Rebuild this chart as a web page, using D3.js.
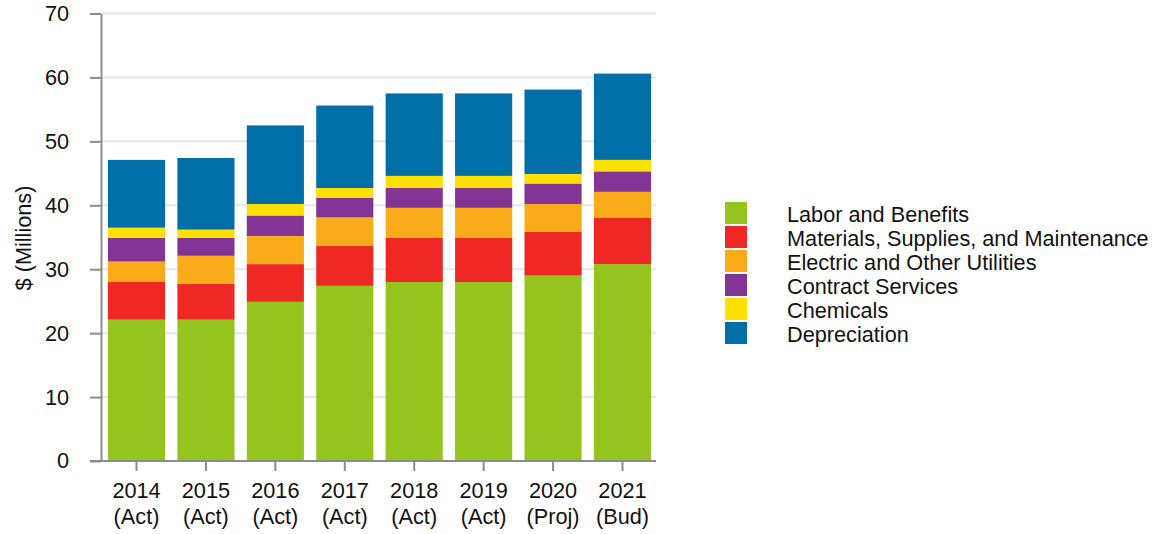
<!DOCTYPE html>
<html>
<head>
<meta charset="utf-8">
<script src="https://cdn.jsdelivr.net/npm/d3@7"></script>
<style>
  html, body { margin: 0; padding: 0; background: #fff; }
  svg { display: block; font-family: "Liberation Sans", Arial, Helvetica, sans-serif; }
</style>
</head>
<body>
<svg id="chart" width="1158" height="534"></svg>
<script>
// Operating expenses by category, $ millions
const years = ["2014", "2015", "2016", "2017", "2018", "2019", "2020", "2021"];
const yearTags = ["(Act)", "(Act)", "(Act)", "(Act)", "(Act)", "(Act)", "(Proj)", "(Bud)"];

const seriesNames = [
  "Labor and Benefits",
  "Materials, Supplies, and Maintenance",
  "Electric and Other Utilities",
  "Contract Services",
  "Chemicals",
  "Depreciation"
];
const seriesColors = ["#96c41f", "#ee2925", "#faab19", "#823595", "#fde000", "#006fa7"];

const labor       = [22.1, 22.1, 24.9, 27.4, 28.0, 28.0, 29.0, 30.8];
const materials   = [5.9, 5.6, 5.9, 6.3, 6.9, 6.9, 6.9, 7.3];
const utilities   = [3.2, 4.4, 4.4, 4.4, 4.7, 4.7, 4.3, 4.0];
const contract    = [3.7, 2.8, 3.2, 3.1, 3.1, 3.1, 3.2, 3.2];
const chemicals   = [1.6, 1.3, 1.8, 1.5, 1.9, 1.9, 1.5, 1.8];
const depreciation = [10.6, 11.2, 12.3, 12.9, 12.9, 12.9, 13.2, 13.5];

const yTicks = [0, 10, 20, 30, 40, 50, 60, 70];

const seriesValues = [labor, materials, utilities, contract, chemicals, depreciation];
const keys = seriesNames;
const rows = years.map((yr, i) => {
  const r = { year: yr };
  keys.forEach((k, j) => { r[k] = seriesValues[j][i]; });
  return r;
});

const svg = d3.select("#chart");
const font = 21.7;
const plotLeft = 101, plotRight = 656, plotTop = 13.5, plotBottom = 461;

const x = d3.scaleBand().domain(years).range([plotLeft, 658]).paddingInner(0.177).paddingOuter(0.1);
const y = d3.scaleLinear().domain([0, 70]).range([plotBottom, plotTop]);

// gridlines
svg.append("g").selectAll("line").data(yTicks.filter(t => t > 0)).join("line")
  .attr("x1", plotLeft + 1).attr("x2", plotRight)
  .attr("y1", d => y(d)).attr("y2", d => y(d))
  .attr("stroke", "#e6e6e6").attr("stroke-width", 2);

// stacked bars
const stack = d3.stack().keys(keys)(rows);
const color = d3.scaleOrdinal().domain(keys).range(seriesColors);
svg.append("g").selectAll("g").data(stack).join("g")
  .attr("fill", d => color(d.key))
  .selectAll("rect").data(d => d).join("rect")
  .attr("x", d => x(d.data.year))
  .attr("width", x.bandwidth())
  .attr("y", d => y(d[1]))
  .attr("height", d => y(d[0]) - y(d[1]));

// y axis
const yAxis = svg.append("g").attr("transform", `translate(${plotLeft},0)`)
  .call(d3.axisLeft(y).tickValues(yTicks).tickSize(11).tickPadding(21).tickSizeOuter(0));
yAxis.select(".domain").attr("stroke", "#8c8c8c").attr("stroke-width", 2);
yAxis.selectAll(".tick line").attr("stroke", "#8c8c8c").attr("stroke-width", 2);
yAxis.selectAll(".tick text").attr("font-size", font).attr("fill", "#111")
  .attr("font-family", "Liberation Sans, Arial, sans-serif");

// x axis
const xAxis = svg.append("g").attr("transform", `translate(0,${plotBottom})`)
  .call(d3.axisBottom(x).tickSize(10).tickSizeOuter(0).tickFormat(""));
xAxis.select(".domain").remove();
xAxis.append("line").attr("x1", 90).attr("x2", plotRight).attr("y1", 0).attr("y2", 0)
  .attr("stroke", "#8c8c8c").attr("stroke-width", 2);
xAxis.selectAll(".tick line").attr("stroke", "#8c8c8c").attr("stroke-width", 2);
xAxis.selectAll(".tick").each(function(d, i) {
  const t = d3.select(this).append("text")
    .attr("text-anchor", "middle").attr("font-size", font).attr("fill", "#111")
    .attr("font-family", "Liberation Sans, Arial, sans-serif");
  t.append("tspan").attr("x", 0).attr("y", 37).text(years[i]);
  t.append("tspan").attr("x", 0).attr("y", 63).text(yearTags[i]);
});

// y axis title
svg.append("text")
  .attr("transform", "translate(31,238) rotate(-90)")
  .attr("text-anchor", "middle").attr("font-size", font).attr("fill", "#111")
  .text("$ (Millions)");

// legend
const legend = svg.append("g").attr("transform", "translate(725,202)");
const item = legend.selectAll("g").data(seriesNames).join("g")
  .attr("transform", (d, i) => `translate(0,${i * 24})`);
item.append("rect").attr("width", 22).attr("height", 22).attr("fill", d => color(d));
item.append("text").attr("x", 62).attr("y", 19.5)
  .attr("font-size", font).attr("fill", "#111").text(d => d);
</script>
</body>
</html>
